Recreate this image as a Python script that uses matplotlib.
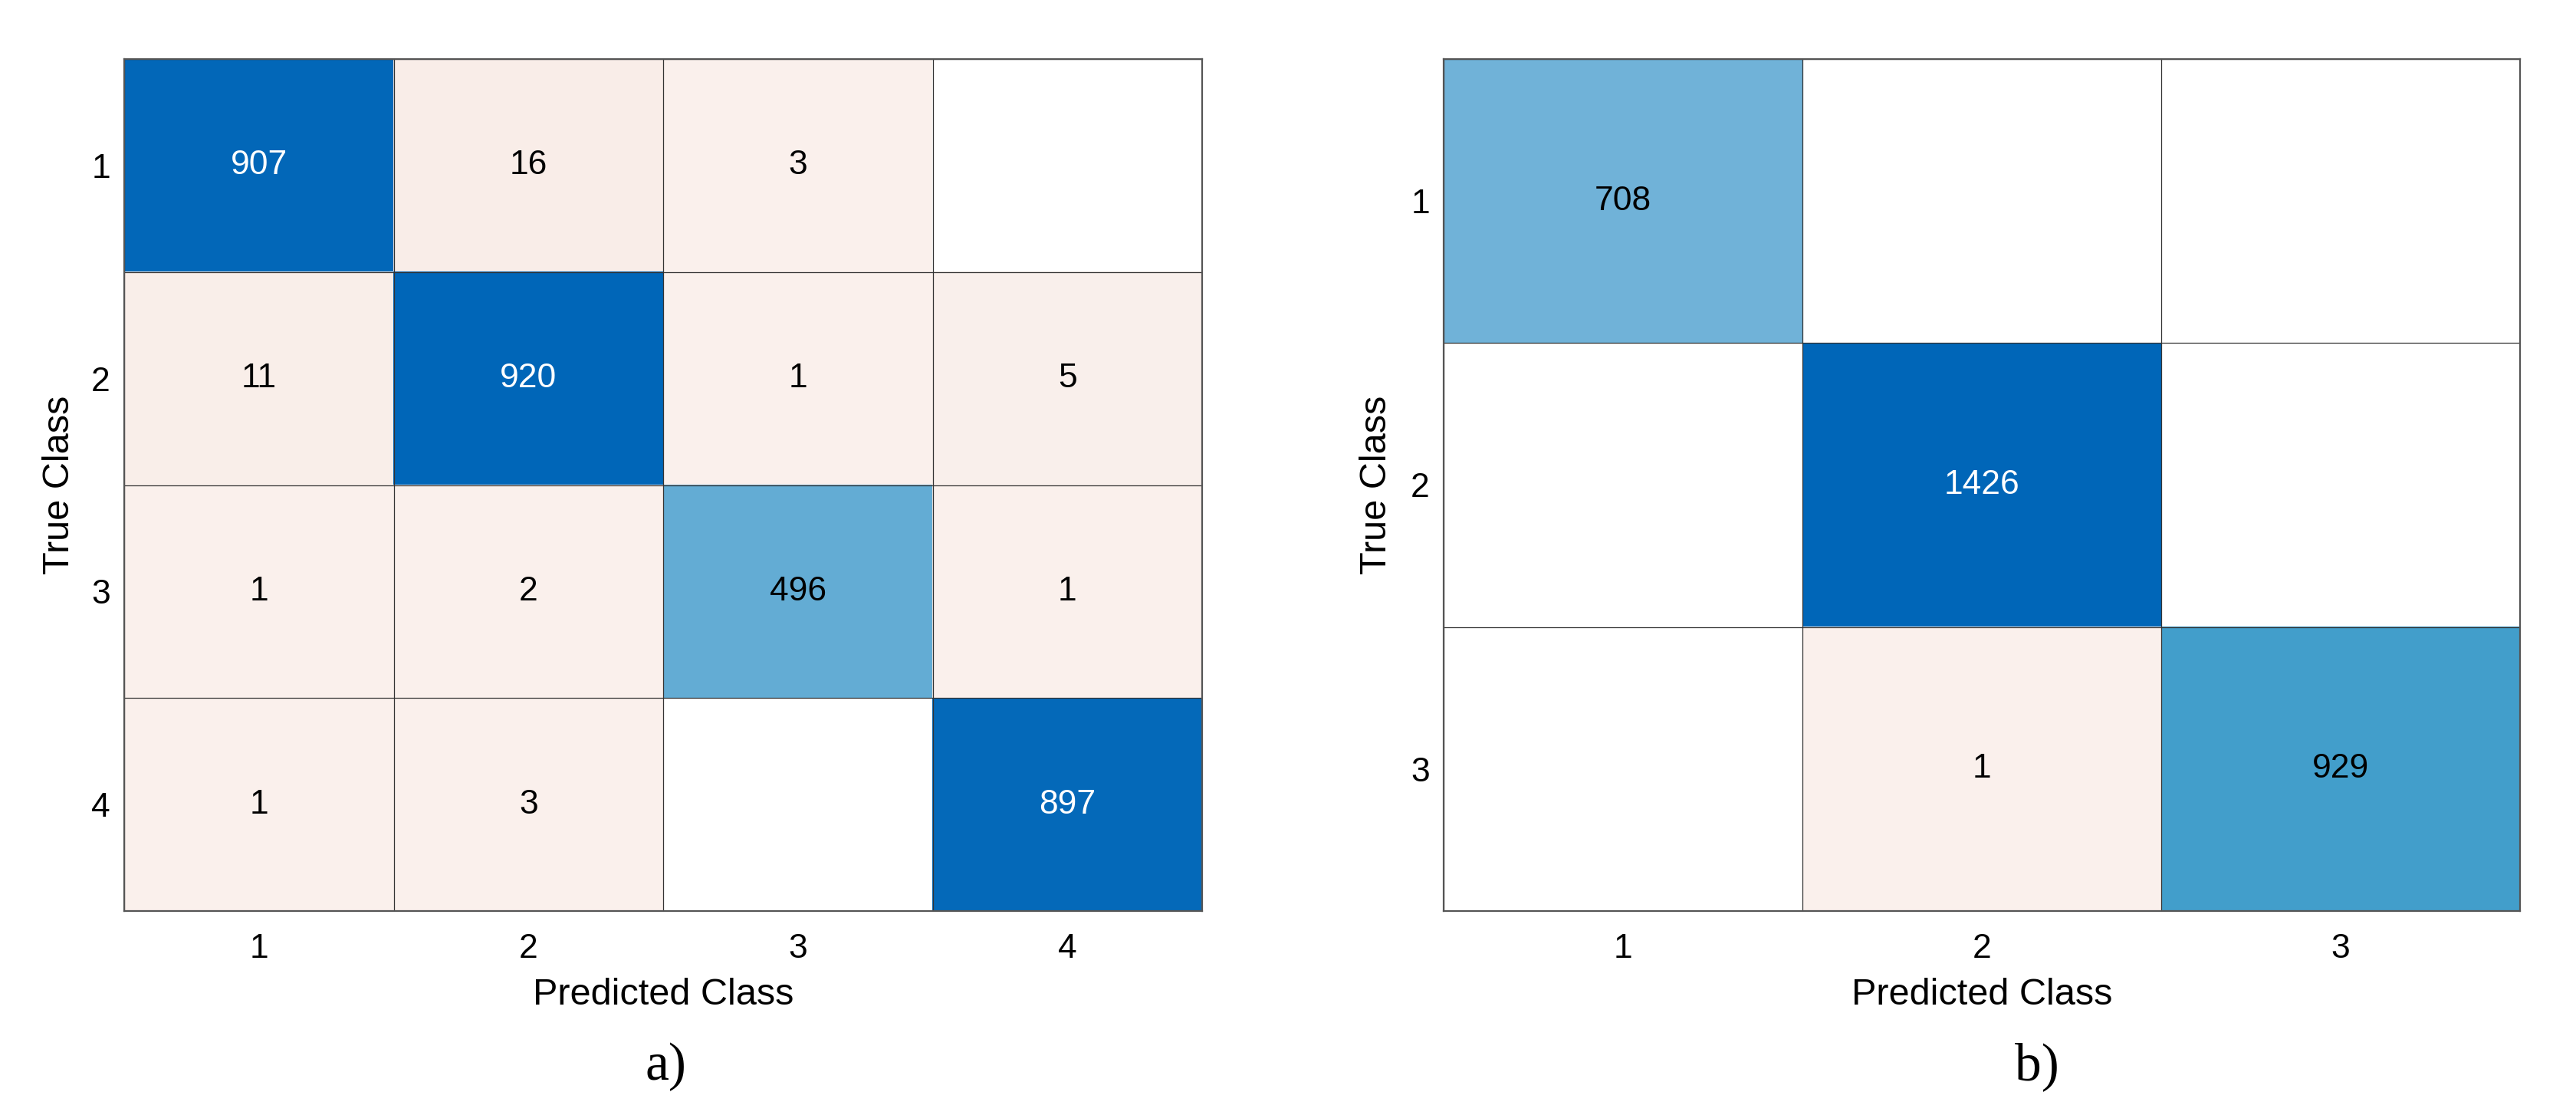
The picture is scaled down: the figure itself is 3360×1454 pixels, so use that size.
import numpy as np
import matplotlib.pyplot as plt
from matplotlib.colors import LinearSegmentedColormap, Normalize

# confusion matrices (rows = true class, cols = predicted)
classes_a = ["1", "2", "3", "4"]
cm_a = np.array([[907, 16, 3, 0],
                 [11, 920, 1, 5],
                 [1, 2, 496, 1],
                 [1, 3, 0, 897]])

classes_b = ["1", "2", "3"]
cm_b = np.array([[708, 0, 0],
                 [0, 1426, 0],
                 [0, 1, 929]])

panel_tags = ["a)", "b)"]

plt.rcParams['font.family'] = ['Liberation Sans', 'DejaVu Sans']

# MATLAB confusionchart-like colouring
diag_cmap = LinearSegmentedColormap.from_list(
    "diag", [(0.0, "#ffffff"), (0.5, "#70b2d8"), (0.65, "#439fcc"), (1.0, "#0066b8")])
off_cmap = LinearSegmentedColormap.from_list("off", ["#faf0ec", "#d95319"])


def draw_confusion(ax, cm, classes, ylabel_x):
    n = len(classes)
    norm = Normalize(0, cm.max())
    rgb = np.ones((n, n, 4))
    for i in range(n):
        for j in range(n):
            v = cm[i, j]
            if v == 0:
                continue
            rgb[i, j] = diag_cmap(norm(v)) if i == j else off_cmap(norm(v))
    ax.imshow(rgb, aspect='auto', interpolation='nearest')

    for i in range(n):
        for j in range(n):
            v = cm[i, j]
            if v == 0:
                continue
            r, g, b, _ = rgb[i, j]
            lum = 0.299 * r + 0.587 * g + 0.114 * b
            ax.text(j, i, str(v), ha='center', va='center', fontsize=32,
                    color='white' if lum < 0.45 else 'black')

    ax.set_xticks(range(n), classes, fontsize=32)
    ax.set_yticks(range(n), classes, fontsize=32)
    ax.set_xticks(np.arange(n + 1) - 0.5, minor=True)
    ax.set_yticks(np.arange(n + 1) - 0.5, minor=True)
    ax.grid(which='minor', color='#333333', linewidth=0.9)
    ax.tick_params(which='both', length=0)
    ax.tick_params(axis='x', pad=21)
    ax.tick_params(axis='y', pad=13)
    for s in ax.spines.values():
        s.set_color('#555555')
        s.set_linewidth(1.6)

    ax.set_xlabel("Predicted Class", fontsize=35, labelpad=12)
    ax.set_ylabel("True Class", fontsize=35)
    ax.yaxis.set_label_coords(ylabel_x, 0.5)


fig = plt.figure(figsize=(33.6, 14.54), dpi=100)
ax1 = fig.add_axes([162 / 3360, 266 / 1454, 1406 / 3360, 1111 / 1454])
ax2 = fig.add_axes([1883 / 3360, 266 / 1454, 1404 / 3360, 1111 / 1454])

draw_confusion(ax1, cm_a, classes_a, -0.044)
draw_confusion(ax2, cm_b, classes_b, -0.046)

fig.text(868 / 3360, 0.043, panel_tags[0], ha='center', va='center',
         fontsize=50, family='Liberation Serif')
fig.text(2657 / 3360, 0.043, panel_tags[1], ha='center', va='center',
         fontsize=50, family='Liberation Serif')

fig.savefig("out.png", dpi=100)
